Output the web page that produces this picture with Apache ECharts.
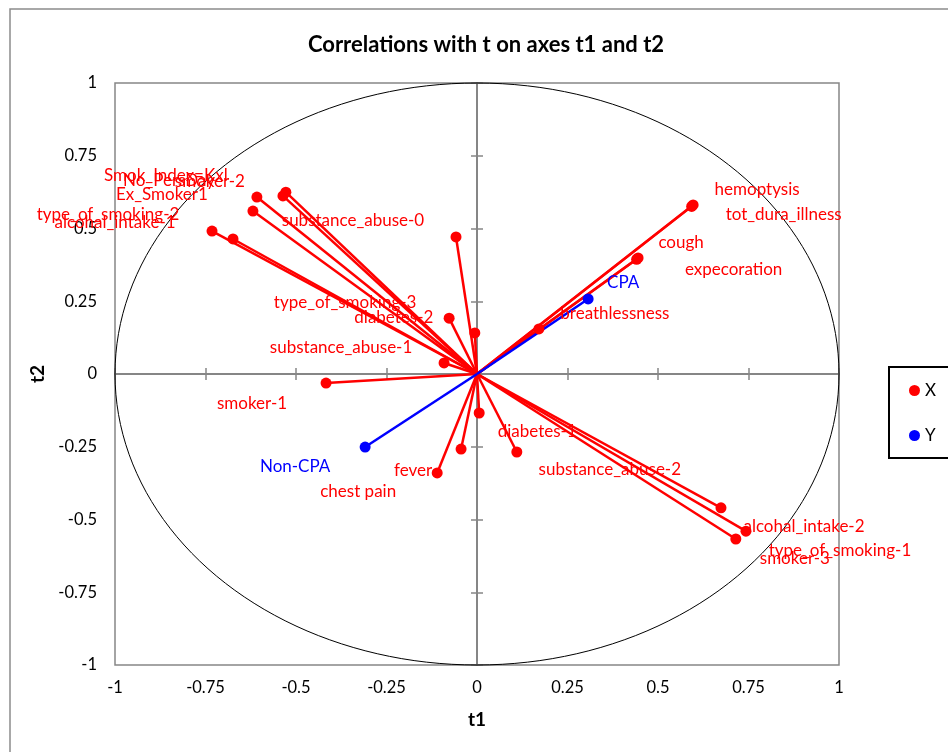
<!DOCTYPE html>
<html><head><meta charset="utf-8">
<script src="https://cdn.jsdelivr.net/npm/echarts@6/dist/echarts.min.js"></script>
<style>html,body{margin:0;padding:0;background:#fff}#c{width:948px;height:752px}</style>
</head><body><div id="c"></div>
<script>
// ---- data ----
const xNames = ['hemoptysis','tot_dura_illness','cough','expecoration','breathlessness',
  'substance_abuse-0','type_of_smoking-3','diabetes-2','substance_abuse-1','smoker-1',
  'diabetes-1','substance_abuse-2','fever','chest pain',
  'alcohal_intake-2','type_of_smoking-1','smoker-3',
  'Smok_Index=Kxl','No_PersDay','smoker-2','Ex_Smoker1','type_of_smoking-2','alcohal_intake-1'];
const xT1 = [0.597,0.593,0.445,0.441,0.171,
  -0.058,-0.077,-0.006,-0.091,-0.417,
  0.006,0.110,-0.044,-0.110,
  0.674,0.743,0.715,
  -0.528,-0.536,-0.608,-0.619,-0.732,-0.674];
const xT2 = [0.581,0.576,0.399,0.394,0.155,
  0.471,0.192,0.141,0.038,-0.031,
  -0.134,-0.268,-0.258,-0.340,
  -0.460,-0.540,-0.567,
  0.625,0.612,0.608,0.560,0.491,0.464];
const yNames = ['CPA','Non-CPA'];
const yT1 = [0.307,-0.309];
const yT2 = [0.258,-0.251];
const axisMin = -1, axisMax = 1, axisStep = 0.25;

// ---- label placement (style) ----
const labelOffsets = {
  'hemoptysis':[64,-15],'tot_dura_illness':[92,8],'cough':[43,-15],'expecoration':[97,10],
  'breathlessness':[76,-15],'substance_abuse-0':[-103,-16],'type_of_smoking-3':[-104,-16],
  'diabetes-2':[-81,-15],'substance_abuse-1':[-103,-15],'smoker-1':[-74,20],
  'diabetes-1':[58,19],'substance_abuse-2':[93,18],'fever':[-48,21],'chest pain':[-79,19],
  'alcohal_intake-2':[83,19],'type_of_smoking-1':[94,19],'smoker-3':[59,20],
  'Smok_Index=Kxl':[-120,-17],'No_PersDay':[-114,-15],'smoker-2':[-47,-16],
  'Ex_Smoker1':[-91,-17],'type_of_smoking-2':[-104,-17],'alcohal_intake-1':[-118,-16],
  'CPA':[35,-16],'Non-CPA':[-70,19]
};

const FONT = 'Lato';
const RED = '#ff0000', BLUE = '#0000ff', GRAY = '#868686';

function pts(names, a, b) {
  return names.map((n, i) => ({
    name: n, value: [a[i], b[i]],
    label: { offset: labelOffsets[n] || [0, 0] }
  }));
}
const xData = pts(xNames, xT1, xT2);
const yData = pts(yNames, yT1, yT2);

function vecSeries(data, color) {
  return {
    type: 'custom', name: color === RED ? 'X-vec' : 'Y-vec', silent: true, z: 2,
    data: data.map(d => d.value),
    encode: { x: 0, y: 1 },
    renderItem: (params, api) => {
      const p0 = api.coord([0, 0]);
      const p1 = api.coord([api.value(0), api.value(1)]);
      return { type: 'line', shape: { x1: p0[0], y1: p0[1], x2: p1[0], y2: p1[1] },
        style: { stroke: color, lineWidth: 2.5 } };
    }
  };
}

function zeroAxis(inside) {
  return {
    type: 'value', min: axisMin, max: axisMax, interval: axisStep,
    axisLine: { show: true, onZero: true, onZeroAxisIndex: 0, lineStyle: { color: GRAY, width: 2 } },
    axisTick: { show: true, inside: inside, length: 6, lineStyle: { color: GRAY, width: 1.5 } },
    axisLabel: { show: false }, splitLine: { show: false }
  };
}

const chart = echarts.init(document.getElementById('c'), null, { renderer: 'canvas' });
chart.setOption({
  animation: false,
  backgroundColor: '#fff',
  graphic: [
    { type: 'rect', shape: { x: 10, y: 9, width: 1000, height: 1000 },
      style: { fill: null, stroke: '#8c8c8c', lineWidth: 1.5 }, silent: true, z: -10 },
    { type: 'text', x: 486, y: 45,
      style: { text: 'Correlations with t on axes t1 and t2', align: 'center', verticalAlign: 'middle',
        fontSize: 22, fontWeight: 'bold', fontFamily: FONT, fill: '#000' } }
  ],
  grid: { left: 115, right: 109, top: 83, bottom: 87, show: true, borderColor: GRAY, borderWidth: 1.5 },
  legend: {
    data: ['X', 'Y'], orient: 'vertical', left: 889, top: 367,
    icon: 'circle', itemWidth: 11, itemHeight: 11, itemGap: 28,
    padding: [15, 60, 14, 20], borderColor: '#000', borderWidth: 2,
    itemStyle: { opacity: 1 },
    textStyle: { fontSize: 17, fontFamily: FONT, color: '#000' }
  },
  xAxis: [
    { type: 'value', min: axisMin, max: axisMax, interval: axisStep,
      axisLine: { show: false }, axisTick: { show: false }, splitLine: { show: false },
      axisLabel: { fontFamily: FONT, fontSize: 16.5, color: '#000', margin: 14 },
      name: 't1', nameLocation: 'middle', nameGap: 45,
      nameTextStyle: { fontFamily: FONT, fontSize: 19, fontWeight: 'bold', color: '#000' } },
    zeroAxis(true), zeroAxis(false)
  ],
  yAxis: [
    { type: 'value', min: axisMin, max: axisMax, interval: axisStep,
      axisLine: { show: false }, axisTick: { show: false }, splitLine: { show: false },
      axisLabel: { fontFamily: FONT, fontSize: 16.5, color: '#000', margin: 18 },
      name: 't2', nameLocation: 'middle', nameGap: 66,
      nameTextStyle: { fontFamily: FONT, fontSize: 19, fontWeight: 'bold', color: '#000' } },
    zeroAxis(true), zeroAxis(false)
  ],
  series: [
    { type: 'custom', name: 'circle', silent: true, z: 1, data: [[0, 0]],
      renderItem: (params, api) => {
        const c = api.coord([0, 0]);
        const s = api.size([1, 1]);
        const points = [];
        for (let k = 0; k <= 360; k += 2) {
          const a = k * Math.PI / 180;
          points.push([c[0] + s[0] * Math.cos(a), c[1] + s[1] * Math.sin(a)]);
        }
        return { type: 'polyline', shape: { points }, style: { stroke: '#000', lineWidth: 1, fill: null } };
      } },
    vecSeries(xData, RED),
    vecSeries(yData, BLUE),
    { type: 'scatter', name: 'X', data: xData, symbol: 'circle', symbolSize: 11, z: 3,
      itemStyle: { color: RED, opacity: 1 },
      label: { show: true, position: 'inside', formatter: '{b}', color: RED, fontSize: 17, fontFamily: FONT } },
    { type: 'scatter', name: 'Y', data: yData, symbol: 'circle', symbolSize: 11, z: 3,
      itemStyle: { color: BLUE, opacity: 1 },
      label: { show: true, position: 'inside', formatter: '{b}', color: BLUE, fontSize: 17, fontFamily: FONT } }
  ]
});
</script></body></html>
